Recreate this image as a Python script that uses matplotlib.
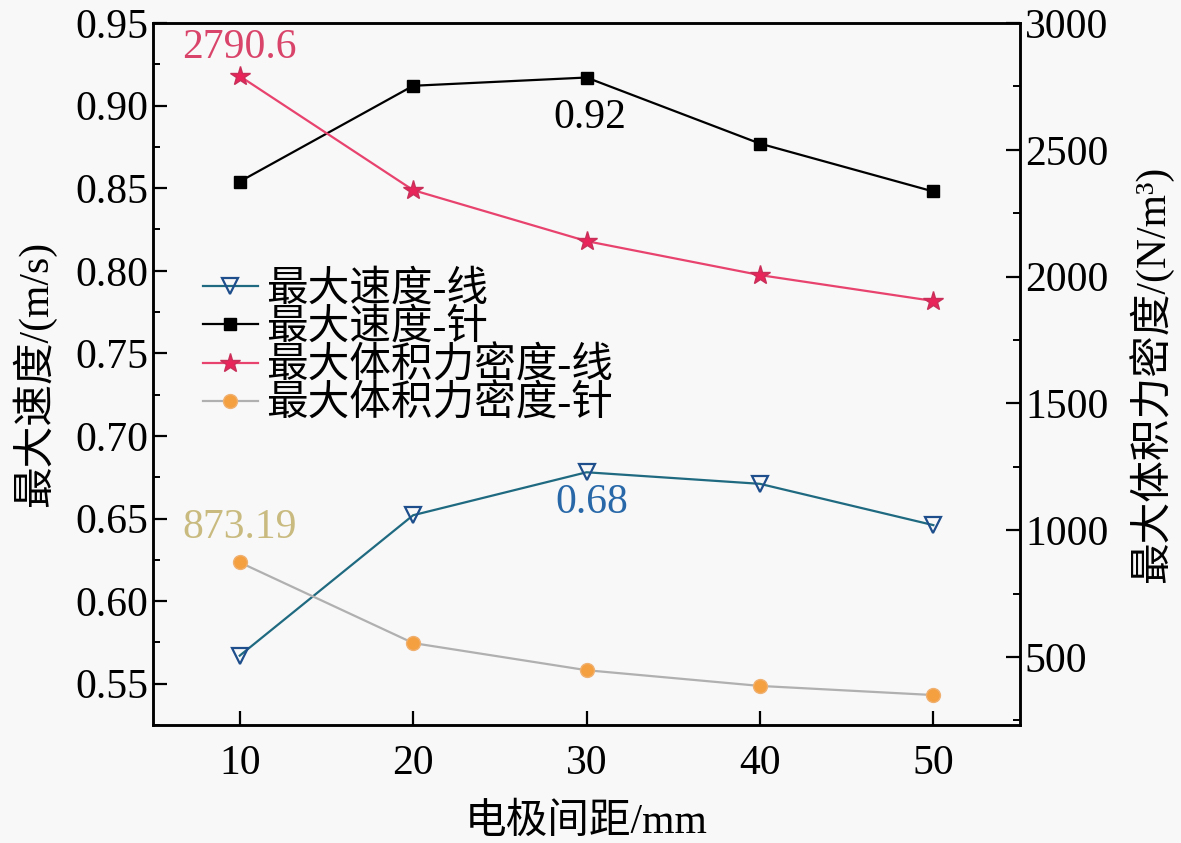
import numpy as np
import matplotlib
matplotlib.use("Agg")
import matplotlib.pyplot as plt
from matplotlib.ticker import MultipleLocator

plt.rcParams['font.family'] = ['Liberation Serif', 'Noto Sans CJK SC']

# data
gap = [10, 20, 30, 40, 50]
speed_line = [0.567, 0.652, 0.678, 0.671, 0.646]
speed_needle = [0.854, 0.912, 0.917, 0.877, 0.848]
force_line = [2790.6, 2341, 2140, 2006, 1904]
force_needle = [873.19, 555, 448, 386, 350]

names = ['最大速度-线', '最大速度-针', '最大体积力密度-线', '最大体积力密度-针']

fig = plt.figure(figsize=(11.81, 8.43), dpi=100, facecolor='#f8f8f8')
ax = fig.add_axes([0.1296, 0.14, 0.7341, 0.8327])
ax.set_facecolor('#f8f8f8')
ax2 = ax.twinx()

h1, = ax.plot(gap, speed_line, '-v', color='#1f6a80', mec='#1f4e8c', mfc='none',
              mew=1.6, ms=12, lw=1.6, label=names[0])
h2, = ax.plot(gap, speed_needle, '-s', color='black', ms=9, lw=1.6, label=names[1])
h3, = ax2.plot(gap, force_line, '-*', color='#e8436e', mfc='#e8245a', mec='#c8305a',
               ms=15, lw=1.6, label=names[2])
h4, = ax2.plot(gap, force_needle, '-o', color='#b0b0b0', mfc='#f4a040', mec='#f0b070',
               ms=10, lw=1.6, label=names[3])

ax.set_xlim(5, 55)
ax.set_ylim(0.525, 0.95)
ax2.set_ylim(232, 3000)
ax.set_xticks(gap)
ax.yaxis.set_major_locator(MultipleLocator(0.05))
ax.yaxis.set_minor_locator(MultipleLocator(0.025))
ax2.yaxis.set_major_locator(MultipleLocator(500))
ax2.yaxis.set_minor_locator(MultipleLocator(250))
ax.yaxis.set_major_formatter(matplotlib.ticker.FormatStrFormatter('%.2f'))

for a in (ax, ax2):
    a.tick_params(which='major', direction='in', length=10, width=1.6, labelsize=30)
    a.tick_params(which='minor', direction='in', length=5, width=1.4)
    for s in a.spines.values():
        s.set_linewidth(1.8)
ax.tick_params(axis='x', pad=14)

ax.set_xlabel('电极间距/mm', fontsize=30, labelpad=15)
ax.set_ylabel('最大速度/(m/s)', fontsize=30, labelpad=14)
ax2.set_ylabel('最大体积力密度/(N/m³)', fontsize=30, labelpad=14)

ax2.text(10, 2901, '2790.6', color='#d9446a', fontsize=30, ha='center', va='center')
ax.text(30.2, 0.8925, '0.92', color='black', fontsize=30, ha='center', va='center')
ax.text(30.3, 0.6594, '0.68', color='#2868a8', fontsize=30, ha='center', va='center')
ax2.text(10, 1009, '873.19', color='#c9bb80', fontsize=30, ha='center', va='center')

leg = ax.legend(handles=[h1, h2, h3, h4], loc='center left',
                bbox_to_anchor=(0.058, 0.537), frameon=False, fontsize=30,
                handlelength=1.3, handletextpad=0.2, labelspacing=-0.02,
                borderpad=0, borderaxespad=0)

fig.savefig('out.png', dpi=100, facecolor=fig.get_facecolor())
